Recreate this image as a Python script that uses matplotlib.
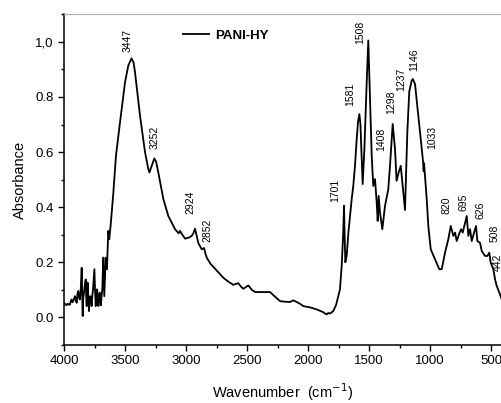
import numpy as np
import matplotlib
matplotlib.use('Agg')
import matplotlib.pyplot as plt
from matplotlib.ticker import MultipleLocator

plt.rcParams['font.family'] = ['Liberation Sans', 'DejaVu Sans']

# FTIR spectrum of PANI-HY
wavenumber = [
    4000, 3990, 3980, 3970, 3960, 3951, 3944, 3937, 3930, 3924, 3917, 3910,
    3903, 3896, 3890, 3883, 3876, 3869, 3862, 3855, 3851, 3847, 3842, 3836,
    3829, 3822, 3818, 3814, 3810, 3806, 3800, 3795, 3790, 3784, 3778, 3773,
    3768, 3762, 3756, 3751, 3745, 3740, 3735, 3729, 3724, 3718, 3713, 3708,
    3702, 3697, 3692, 3686, 3682, 3678, 3674, 3670, 3664, 3658, 3653, 3648,
    3642, 3637, 3633, 3629, 3623, 3617, 3596, 3574, 3541, 3500, 3473, 3447,
    3430, 3418, 3377, 3336, 3310, 3300, 3285, 3260, 3245, 3227, 3186, 3145,
    3090, 3060, 3049, 3030, 3008, 2975, 2953, 2940, 2926, 2912, 2899, 2871,
    2852, 2840, 2830, 2800, 2748, 2694, 2660, 2612, 2590, 2571, 2550, 2530,
    2510, 2489, 2460, 2434, 2311, 2270, 2229, 2190, 2147, 2120, 2093, 2060,
    2038, 1980, 1929, 1880, 1860, 1847, 1835, 1820, 1793, 1770, 1752, 1738,
    1724, 1712, 1705, 1700, 1694, 1688, 1683, 1669, 1656, 1642, 1629, 1615,
    1601, 1590, 1579, 1570, 1566, 1552, 1538, 1519, 1506, 1492, 1478, 1465,
    1451, 1437, 1429, 1421, 1410, 1391, 1369, 1342, 1328, 1306, 1287, 1274,
    1257, 1240, 1224, 1205, 1186, 1170, 1150, 1140, 1123, 1096, 1068, 1058,
    1055, 1052, 1049, 1041, 1027, 1014, 994, 959, 924, 904, 877, 850,
    830, 809, 795, 781, 762, 746, 732, 719, 699, 686, 672, 658,
    639, 623, 612, 590, 576, 549, 530, 514, 503, 481, 467, 453,
    432, 412, 400,
]
absorbance = [
    0.053, 0.048, 0.044, 0.050, 0.046, 0.047, 0.060, 0.065, 0.055, 0.059, 0.070, 0.077,
    0.062, 0.053, 0.085, 0.096, 0.070, 0.065, 0.110, 0.180, 0.090, 0.005, 0.070, 0.090,
    0.120, 0.138, 0.080, 0.041, 0.100, 0.126, 0.070, 0.023, 0.060, 0.077, 0.060, 0.041,
    0.080, 0.102, 0.140, 0.175, 0.090, 0.041, 0.080, 0.102, 0.070, 0.041, 0.070, 0.090,
    0.060, 0.044, 0.080, 0.102, 0.160, 0.217, 0.140, 0.077, 0.150, 0.217, 0.200, 0.175,
    0.250, 0.314, 0.300, 0.284, 0.310, 0.338, 0.450, 0.587, 0.708, 0.853, 0.914, 0.940,
    0.925, 0.890, 0.732, 0.600, 0.540, 0.526, 0.545, 0.577, 0.565, 0.526, 0.430, 0.368,
    0.320, 0.305, 0.314, 0.300, 0.286, 0.290, 0.296, 0.305, 0.322, 0.295, 0.270, 0.247,
    0.252, 0.230, 0.217, 0.195, 0.170, 0.144, 0.132, 0.118, 0.122, 0.124, 0.112, 0.104,
    0.110, 0.116, 0.100, 0.092, 0.092, 0.075, 0.059, 0.057, 0.056, 0.062, 0.056, 0.048,
    0.041, 0.036, 0.029, 0.020, 0.014, 0.011, 0.016, 0.014, 0.023, 0.045, 0.077, 0.102,
    0.187, 0.300, 0.405, 0.300, 0.200, 0.215, 0.223, 0.308, 0.368, 0.429, 0.477, 0.550,
    0.647, 0.710, 0.738, 0.700, 0.647, 0.484, 0.611, 0.853, 1.005, 0.793, 0.587, 0.477,
    0.502, 0.417, 0.350, 0.441, 0.381, 0.320, 0.405, 0.465, 0.550, 0.702, 0.611, 0.496,
    0.526, 0.550, 0.477, 0.390, 0.672, 0.820, 0.860, 0.865, 0.847, 0.732, 0.611, 0.570,
    0.550, 0.530, 0.560, 0.514, 0.429, 0.332, 0.247, 0.211, 0.175, 0.175, 0.235, 0.284,
    0.332, 0.296, 0.308, 0.277, 0.302, 0.320, 0.308, 0.332, 0.368, 0.296, 0.320, 0.277,
    0.308, 0.332, 0.277, 0.271, 0.241, 0.223, 0.223, 0.235, 0.199, 0.175, 0.138, 0.114,
    0.090, 0.065, 0.055,
]

# peak annotations: label, x position, bottom y of the text
peak_labels = ['3447', '3252', '2924', '2852', '1701', '1581', '1508', '1408',
               '1298', '1237', '1146', '1033', '820', '695', '626', '508', '442']
peak_x = [3475, 3254, 2967, 2828, 1779, 1656, 1574, 1402,
          1320, 1238, 1131, 984, 861, 729, 590, 467, 442]
peak_y = [0.964, 0.611, 0.375, 0.273, 0.418, 0.767, 0.993, 0.604,
          0.738, 0.822, 0.895, 0.611, 0.375, 0.385, 0.356, 0.273, 0.167]

fig = plt.figure(figsize=(5.02, 4.03), dpi=100)
ax = fig.add_axes([0.1275, 0.144, 0.8725, 0.8205])

ax.plot(wavenumber, absorbance, color='black', lw=1.3, label='PANI-HY')

for lab, x, y in zip(peak_labels, peak_x, peak_y):
    ax.text(x, y, lab, rotation=90, ha='center', va='bottom', fontsize=7.5)

ax.set_xlim(4000, 410)
ax.set_ylim(-0.1, 1.1)
ax.set_xticks([4000, 3500, 3000, 2500, 2000, 1500, 1000, 500])
ax.xaxis.set_minor_locator(MultipleLocator(250))
ax.set_yticks([0.0, 0.2, 0.4, 0.6, 0.8, 1.0])
ax.set_yticklabels(['0.0', '0.2', '0.4', '0.6', '0.8', '1,0'])
ax.yaxis.set_minor_locator(MultipleLocator(0.1))
ax.tick_params(which='major', direction='out', length=4, width=1, labelsize=9.5)
ax.tick_params(which='minor', direction='out', length=2.5, width=1)

ax.spines['right'].set_visible(False)
ax.spines['top'].set_color('#b0b0b0')
ax.spines['left'].set_linewidth(1.1)
ax.spines['bottom'].set_linewidth(1.1)

ax.set_xlabel('Wavenumber  (cm$^{-1}$)', fontsize=10.5, labelpad=10)
ax.set_ylabel('Absorbance', fontsize=10.5, labelpad=6)

ax.legend(loc='upper left', bbox_to_anchor=(0.244, 0.99), frameon=False,
          prop={'size': 9.5, 'weight': 'bold'}, handlelength=2.0,
          handletextpad=0.45)

fig.savefig('out.png', dpi=100)
